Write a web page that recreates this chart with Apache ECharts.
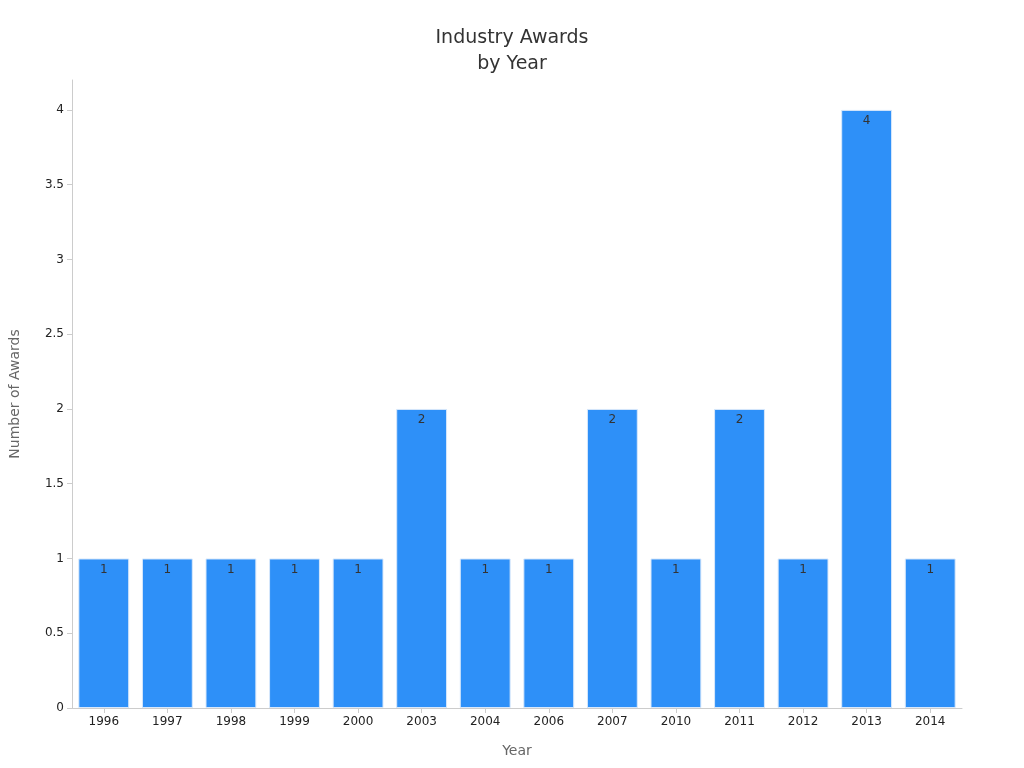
<!DOCTYPE html>
<html><head><meta charset="utf-8">
<script src="https://cdn.jsdelivr.net/npm/echarts@6/dist/echarts.min.js"></script>
<style>html,body{margin:0;padding:0;background:#fff}#c{width:1024px;height:768px}</style>
</head><body><div id="c"></div>
<script>
const years = ['1996','1997','1998','1999','2000','2003','2004','2006','2007','2010','2011','2012','2013','2014'];
const awards = [1,1,1,1,1,2,1,1,2,1,2,1,4,1];
const chart = echarts.init(document.getElementById('c'));
chart.setOption({
  textStyle:{fontFamily:'DejaVu Sans'},
  title:{text:'Industry Awards\nby Year',left:'center',top:20,textStyle:{fontSize:19,fontWeight:'normal',color:'#333',lineHeight:26,fontFamily:'DejaVu Sans'}},
  grid:{left:64,right:62,top:80,bottom:60},
  xAxis:{type:'category',data:years,name:'Year',nameLocation:'middle',nameGap:36,
    nameTextStyle:{color:'#666',fontSize:14},
    axisLine:{lineStyle:{color:'#ccc'}},axisTick:{show:true,alignWithLabel:true,lineStyle:{color:'#ccc'}},
    axisLabel:{color:'#222',fontSize:12}},
  yAxis:{type:'value',min:0,max:4.2,interval:0.5,name:'Number of Awards',nameLocation:'middle',nameGap:50,
    nameTextStyle:{color:'#666',fontSize:14},
    axisLine:{show:true,lineStyle:{color:'#ccc'}},axisTick:{show:true,lineStyle:{color:'#ccc'}},
    axisLabel:{color:'#222',fontSize:12,showMaxLabel:false},splitLine:{show:false}},
  series:[{type:'bar',data:awards,barCategoryGap:'20%',
    itemStyle:{color:'#2E90F8',borderColor:'#d8e8fb',borderWidth:1},
    label:{show:true,position:'insideTop',color:'#333',fontSize:12,offset:[0,0]}}]
});
</script></body></html>
